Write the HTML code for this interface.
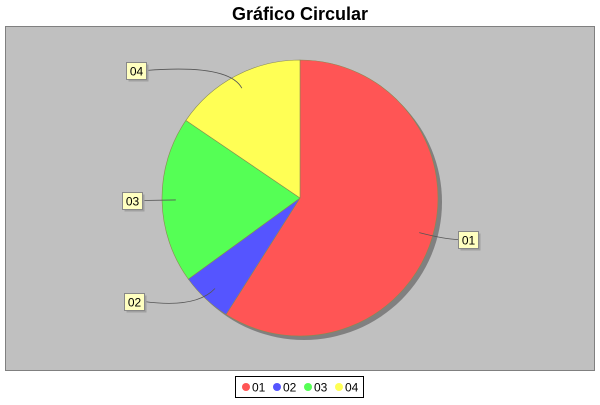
<!DOCTYPE html>
<html><head><meta charset="utf-8"><style>
body{margin:0;background:#fff;font-family:"Liberation Sans",sans-serif}
</style></head><body>
<svg id="c" width="600" height="400" xmlns="http://www.w3.org/2000/svg">
<text x="300" y="20" text-anchor="middle" font-size="18" font-weight="bold" fill="#000">Gráfico Circular</text>
<rect x="5.5" y="26.5" width="589" height="344" fill="#c0c0c0" stroke="#808080"/>
<g id="pie"></g>
<g id="labels"></g>
<rect x="235.5" y="376.5" width="128" height="21" fill="#fff" stroke="#000"/>
<g id="legend"></g>
</svg>
<script>
const categories=["01","02","03","04"];
const values=[59,6,19.5,15.5];
const colors=["#ff5555","#5555ff","#55ff55","#ffff55"];
const ns="http://www.w3.org/2000/svg";
const cx=300,cy=198,r=138;
const total=values.reduce((a,b)=>a+b,0);
function pt(a,rr){return [cx+rr*Math.sin(a),cy-rr*Math.cos(a)];}
const pie=document.getElementById('pie'),lab=document.getElementById('labels'),leg=document.getElementById('legend');
const sh=document.createElementNS(ns,'circle');
sh.setAttribute('cx',cx+4);sh.setAttribute('cy',cy+4);sh.setAttribute('r',r);sh.setAttribute('fill','#808080');


pie.appendChild(sh);
let a0=0;
const labelPos=[[458,231],[124,293],[122,192],[126,62]];
values.forEach((v,i)=>{
  const a1=a0+v/total*2*Math.PI;
  const p0=pt(a0,r),p1=pt(a1,r);
  const large=(a1-a0)>Math.PI?1:0;
  const p=document.createElementNS(ns,'path');
  p.setAttribute('d',`M${cx},${cy}L${p0[0]},${p0[1]}A${r},${r} 0 ${large} 1 ${p1[0]},${p1[1]}Z`);
  p.setAttribute('fill',colors[i]);p.setAttribute('stroke','#8a8a50');p.setAttribute('stroke-width','0.6');
  
  
  pie.appendChild(p);
  const am=(a0+a1)/2;const e=pt(am,r*0.9);const o=pt(am,r*1.1);
  const [lx,ly]=labelPos[i];const right=Math.sin(am)>0;
  const sx=right?lx:lx+20,sy=ly+8.5;
  const ln=document.createElementNS(ns,'path');
  ln.setAttribute('d',`M${sx},${sy}Q${o[0]},${right?sy:o[1]} ${e[0]},${e[1]}`);
  ln.setAttribute('fill','none');ln.setAttribute('stroke','#555');ln.setAttribute('stroke-width','0.8');
  
  
  lab.appendChild(ln);
  const bs=document.createElementNS(ns,'rect');
  bs.setAttribute('x',lx+2.5);bs.setAttribute('y',ly+2.5);bs.setAttribute('width',20);bs.setAttribute('height',17);bs.setAttribute('fill','#a0a0a0');
  
  
  lab.appendChild(bs);
  const b=document.createElementNS(ns,'rect');
  b.setAttribute('x',lx+0.5);b.setAttribute('y',ly+0.5);b.setAttribute('width',20);b.setAttribute('height',17);b.setAttribute('fill','#ffffc0');b.setAttribute('stroke','#888');
  
  
  lab.appendChild(b);
  const t=document.createElementNS(ns,'text');
  t.setAttribute('x',lx+10.5);t.setAttribute('y',ly+13.5);t.setAttribute('text-anchor','middle');t.setAttribute('font-size','12');
  t.textContent=categories[i];
  
  
  lab.appendChild(t);
  const lx2=242+i*31;
  const c=document.createElementNS(ns,'circle');
  c.setAttribute('cx',lx2+4);c.setAttribute('cy',387);c.setAttribute('r',4);c.setAttribute('fill',colors[i]);
  
  
  leg.appendChild(c);
  const lt=document.createElementNS(ns,'text');
  lt.setAttribute('x',lx2+10);lt.setAttribute('y',391.5);lt.setAttribute('font-size','12');
  lt.textContent=categories[i];
  
  
  leg.appendChild(lt);
  a0=a1;
});
</script>
</body></html>
